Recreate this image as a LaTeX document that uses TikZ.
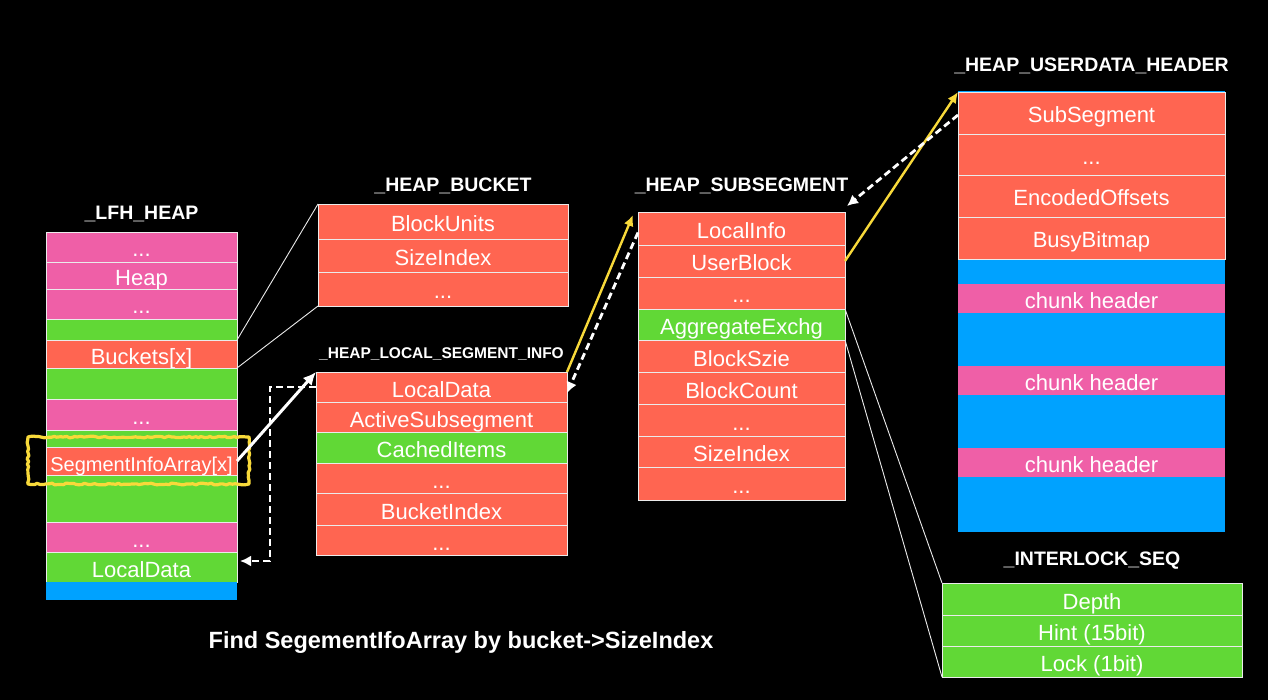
\documentclass[tikz,border=0pt]{standalone}
\usepackage{fontspec}
\setmainfont{Liberation Sans}
\usetikzlibrary{positioning,arrows.meta,decorations.pathmorphing}
\definecolor{kred}{HTML}{FF6551}
\definecolor{kgreen}{HTML}{61D836}
\definecolor{kpink}{HTML}{EF5FA7}
\definecolor{kblue}{HTML}{00A2FF}
\definecolor{kyellow}{HTML}{F8D93A}
\tikzstyle{field} = [rectangle, draw=white!92!black, line width=0.9pt, inner sep=0pt, outer sep=0pt, text=white, text height=21pt, text depth=1pt, font=\fontsize{22}{22}\selectfont]
\tikzstyle{redf} = [field, fill=kred]
\tikzstyle{greenf} = [field, fill=kgreen]
\tikzstyle{pinkf} = [field, fill=kpink]
\tikzstyle{bluef} = [field, fill=kblue, draw=none]
\tikzstyle{blank} = [text height=0pt, text depth=0pt]
\tikzstyle{title} = [inner sep=0pt, text=white, text height=14pt, text depth=0pt, font=\bfseries\fontsize{19.5}{19.5}\selectfont]
\tikzstyle{zoomline} = [draw=white!92!black, line width=0.9pt]
\tikzstyle{ptr} = [draw=white, line width=3pt, -{Latex[length=13pt,width=12pt]}]
\tikzstyle{backptr} = [draw=white, line width=2.8pt, dash pattern=on 7pt off 4pt, -{Latex[length=11pt,width=11pt]}]
\tikzstyle{yptr} = [draw=kyellow, line width=2.4pt, -{Latex[length=11pt,width=10pt]}]
\tikzstyle{hilite} = [draw=kyellow, line width=3.2pt, line join=round, decorate, decoration={random steps, segment length=3pt, amplitude=0.9pt}]

\begin{document}
\begin{tikzpicture}[x=1pt, y=-1pt,
	lfhcol/.style={minimum width=191pt},
	bkcol/.style={minimum width=250pt},
	loccol/.style={minimum width=251pt},
	subcol/.style={minimum width=207pt},
	udcol/.style={minimum width=267pt},
	ilcol/.style={minimum width=300pt}]
	\fill [black] (0,0) rectangle (1268,700);
	\useasboundingbox (0,0) rectangle (1268,700);

	% _LFH_HEAP
	\node [pinkf, lfhcol, minimum height=30pt, anchor=north west] (lfh1) at (46,232) {...};
	\node [pinkf, lfhcol, minimum height=27pt, below=0pt of lfh1] (lfh2) {Heap};
	\node [pinkf, lfhcol, minimum height=30pt, below=0pt of lfh2] (lfh3) {...};
	\node [greenf, lfhcol, blank, minimum height=21pt, below=0pt of lfh3] (lfh4) {};
	\node [redf, lfhcol, minimum height=28pt, below=0pt of lfh4] (lfh5) {Buckets[x]};
	\node [greenf, lfhcol, blank, minimum height=31pt, below=0pt of lfh5] (lfh6) {};
	\node [pinkf, lfhcol, minimum height=31pt, below=0pt of lfh6] (lfh7) {...};
	\node [greenf, lfhcol, blank, minimum height=17pt, below=0pt of lfh7] (lfh8) {};
	\node [redf, lfhcol, minimum height=28pt, below=0pt of lfh8, font=\fontsize{20}{20}\selectfont] (lfh9) {SegmentInfoArray[x]};
	\node [greenf, lfhcol, blank, minimum height=47pt, below=0pt of lfh9] (lfh10) {};
	\node [pinkf, lfhcol, minimum height=30pt, below=0pt of lfh10] (lfh11) {...};
	\node [greenf, lfhcol, minimum height=30pt, below=0pt of lfh11] (lfh12) {LocalData};
	\node [bluef, lfhcol, blank, minimum height=18pt, below=0pt of lfh12] (lfh13) {};
	\node [title, above=12pt of lfh1] (lfhtitle) {\_LFH\_HEAP};
	\draw [hilite] ([shift={(-18,-10)}]lfh9.north west) rectangle ([shift={(12,9)}]lfh9.south east);

	% _HEAP_BUCKET
	\node [redf, bkcol, minimum height=35pt, anchor=north west] (bk1) at (318,204) {BlockUnits};
	\node [redf, bkcol, minimum height=33pt, below=0pt of bk1] (bk2) {SizeIndex};
	\node [redf, bkcol, minimum height=34pt, below=0pt of bk2] (bk3) {...};
	\node [title, above=12pt of bk1, xshift=10pt] (bktitle) {\_HEAP\_BUCKET};

	% _HEAP_LOCAL_SEGMENT_INFO
	\node [redf, loccol, minimum height=30pt, anchor=north west] (loc1) at (316,372) {LocalData};
	\node [redf, loccol, minimum height=30pt, below=0pt of loc1] (loc2) {ActiveSubsegment};
	\node [greenf, loccol, minimum height=31pt, below=0pt of loc2] (loc3) {CachedItems};
	\node [redf, loccol, minimum height=30pt, below=0pt of loc3] (loc4) {...};
	\node [redf, loccol, minimum height=32pt, below=0pt of loc4] (loc5) {BucketIndex};
	\node [redf, loccol, minimum height=30pt, below=0pt of loc5] (loc6) {...};
	\node [title, above=13pt of loc1, text height=11pt, font=\bfseries\fontsize{15.5}{15.5}\selectfont] (loctitle) {\_HEAP\_LOCAL\_SEGMENT\_INFO};

	% _HEAP_SUBSEGMENT
	\node [redf, subcol, minimum height=33pt, anchor=north west] (sub1) at (638,212) {LocalInfo};
	\node [redf, subcol, minimum height=32pt, below=0pt of sub1] (sub2) {UserBlock};
	\node [redf, subcol, minimum height=32pt, below=0pt of sub2] (sub3) {...};
	\node [greenf, subcol, minimum height=31pt, below=0pt of sub3] (sub4) {AggregateExchg};
	\node [redf, subcol, minimum height=32pt, below=0pt of sub4] (sub5) {BlockSzie};
	\node [redf, subcol, minimum height=32pt, below=0pt of sub5] (sub6) {BlockCount};
	\node [redf, subcol, minimum height=32pt, below=0pt of sub6] (sub7) {...};
	\node [redf, subcol, minimum height=31pt, below=0pt of sub7] (sub8) {SizeIndex};
	\node [redf, subcol, minimum height=33pt, below=0pt of sub8] (sub9) {...};
	\node [title, above=20pt of sub1] (subtitle) {\_HEAP\_SUBSEGMENT};

	% _HEAP_USERDATA_HEADER
	\node [bluef, udcol, blank, minimum height=441pt, anchor=north west] (udbody) at (958,91) {};
	\node [redf, udcol, minimum height=42pt, anchor=north] (ud1) at ([yshift=-1pt]udbody.north) {SubSegment};
	\node [redf, udcol, minimum height=41pt, below=0pt of ud1] (ud2) {...};
	\node [redf, udcol, minimum height=42pt, below=0pt of ud2] (ud3) {EncodedOffsets};
	\node [redf, udcol, minimum height=42pt, below=0pt of ud3] (ud4) {BusyBitmap};
	\node [pinkf, udcol, draw=none, minimum height=29pt, below=25pt of ud4] (chunk1) {chunk header};
	\node [pinkf, udcol, draw=none, minimum height=29pt, below=53pt of chunk1] (chunk2) {chunk header};
	\node [pinkf, udcol, draw=none, minimum height=29pt, below=53pt of chunk2] (chunk3) {chunk header};
	\node [title, above=19pt of udbody] (udtitle) {\_HEAP\_USERDATA\_HEADER};

	% _INTERLOCK_SEQ
	\node [greenf, ilcol, minimum height=32pt, anchor=north west] (il1) at (942,583) {Depth};
	\node [greenf, ilcol, minimum height=31pt, below=0pt of il1] (il2) {Hint (15bit)};
	\node [greenf, ilcol, minimum height=31pt, below=0pt of il2] (il3) {Lock (1bit)};
	\node [title, above=17pt of il1] (iltitle) {\_INTERLOCK\_SEQ};

	% expansion lines
	\path [zoomline] (lfh4.south east) to (bk1.north west);
	\path [zoomline] (lfh5.south east) to (bk3.south west);
	\path [zoomline] (sub4.north east) to (il1.north west);
	\path [zoomline] (sub4.south east) to (il3.south west);

	% pointers
	\path [ptr] (lfh9.east) to (loc1.north west);
	\draw [backptr] (loc1.west) -- ++(-46,0) |- ([xshift=3pt,yshift=6pt]lfh12.east);
	\path [yptr] (loc1.north east) to ([xshift=-5pt,yshift=-3pt]sub1.north west);
	\path [backptr] ([yshift=-4pt]sub1.west) to ([yshift=-6pt]loc1.east);
	\path [yptr] (sub2.east) to (ud1.north west);
	\path [backptr] ([yshift=-2pt]ud1.west) to ([xshift=2pt,yshift=6pt]sub1.north east);

	\node [text=white, inner sep=0pt, text height=17pt, text depth=0pt, font=\bfseries\fontsize{23.5}{23.5}\selectfont] (caption) at (461,640) {Find SegementIfoArray by bucket->SizeIndex};
\end{tikzpicture}
\end{document}
